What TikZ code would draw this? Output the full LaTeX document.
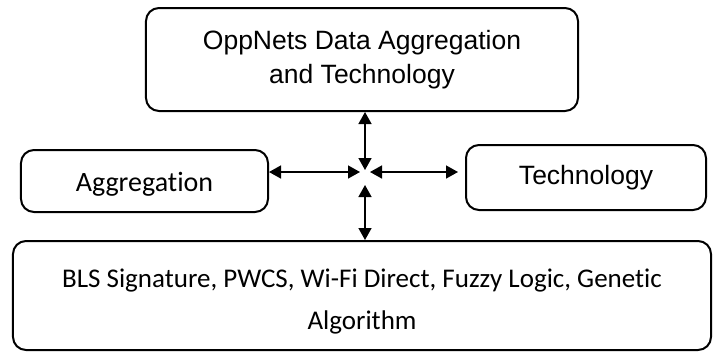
\documentclass[tikz,border=0pt]{standalone}
\usepackage{fontspec}
\setmainfont{Liberation Sans}
\newfontfamily\calibrifont[Ligatures=NoCommon]{Carlito}
\usetikzlibrary{arrows.meta}

\tikzset{
    box/.style={draw,line width=2bp,rounded corners=13bp,inner sep=0pt,align=center},
    link/.style={{Triangle[length=12bp,width=13bp]}-{Triangle[length=12bp,width=13bp]},line width=1.5bp}
}

\begin{document}
\begin{tikzpicture}[x=1bp,y=-1bp]
            \useasboundingbox (0,0) rectangle (714,352);
            \node (top) at (362,59.5)[box,minimum width=432bp,minimum height=103bp,font=\fontsize{26.5bp}{34bp}\selectfont]{OppNets Data Aggregation\\and Technology};
            \node (agg) at (144.5,181)[box,minimum width=247bp,minimum height=62bp,font=\calibrifont\fontsize{28bp}{34bp}\selectfont]{\rule{0pt}{26bp}Aggregation};
            \node (tech) at (586,177.5)[box,minimum width=240bp,minimum height=65bp,font=\fontsize{26.5bp}{32bp}\selectfont]{Technology};
            \node (bot) at (362,295.5)[box,minimum width=698bp,minimum height=109bp,font=\calibrifont\fontsize{27bp}{42bp}\selectfont]{\rule{0pt}{31bp}BLS Signature, PWCS, Wi-Fi Direct, Fuzzy Logic, Genetic\\Algorithm};
            \coordinate (c) at (365,172);
            \draw[link,shorten >=2bp] (top.south -| c) -- (c);
            \draw[link,shorten <=13bp] (c) -- (bot.north -| c);
            \draw[link,shorten >=5bp] (agg.east |- c) -- (c);
            \draw[link,shorten <=5bp,shorten >=7bp] (c) -- (tech.west |- c);
\end{tikzpicture}
\end{document}
